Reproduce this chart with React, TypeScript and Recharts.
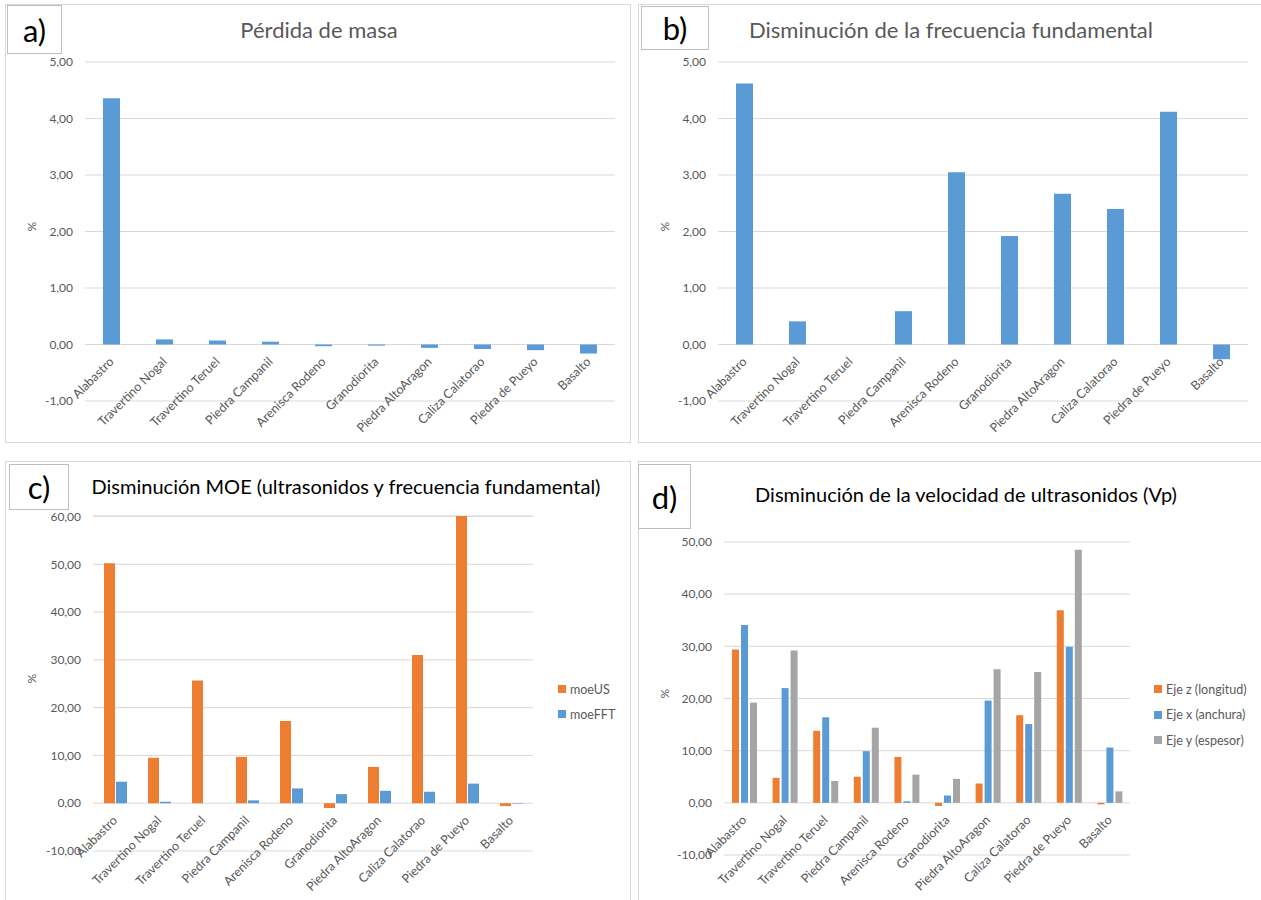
import React from "react";
import {
    BarChart,
    Bar,
    XAxis,
    YAxis,
    CartesianGrid
} from "recharts";

// stone types, same order in every panel
const stones = [
    "Alabastro",
    "Travertino Nogal",
    "Travertino Teruel",
    "Piedra Campanil",
    "Arenisca Rodeno",
    "Granodiorita",
    "Piedra AltoAragon",
    "Caliza Calatorao",
    "Piedra de Pueyo",
    "Basalto"
];

// a) mass loss, %
const massLoss = [4.36, 0.09, 0.07, 0.05, -0.03, -0.02, -0.06, -0.08, -0.1, -0.16];

// b) fundamental frequency drop, %
const freqDrop = [4.62, 0.41, 0, 0.59, 3.05, 1.92, 2.67, 2.4, 4.12, -0.26];

// c) MOE drop, %
const moeUS = [50.2, 9.5, 25.7, 9.7, 17.2, -1.0, 7.6, 31.0, 60.1, -0.6];
const moeFFT = [4.5, 0.3, 0, 0.6, 3.1, 1.9, 2.6, 2.4, 4.1, -0.1];

// d) ultrasonic velocity drop per axis, %
const ejeZ = [29.4, 4.8, 13.8, 5.0, 8.8, -0.6, 3.7, 16.8, 36.9, -0.3];
const ejeX = [34.1, 22.0, 16.4, 9.9, 0.3, 1.4, 19.6, 15.1, 29.9, 10.6];
const ejeY = [19.2, 29.2, 4.2, 14.4, 5.4, 4.6, 25.6, 25.1, 48.5, 2.2];

const ticksAB = [-1, 0, 1, 2, 3, 4, 5];
const ticksC = [-10, 0, 10, 20, 30, 40, 50, 60];
const ticksD = [-10, 0, 10, 20, 30, 40, 50];

const BLUE = "#5B9BD5";
const ORANGE = "#ED7D31";
const GRAY = "#A5A5A5";
const TEXT = "#595959";
const FONT = "Lato, 'Liberation Sans', sans-serif";

const fmt = (v: number) => v.toFixed(2).replace(".", ",");

type Series = { key: string; name: string; color: string; values: number[] };

type PanelProps = {
    left: number;
    top: number;
    width: number;
    height: number;
    letter: string;
    letterBox: { x: number; y: number; w: number; h: number };
    title: string;
    titleX: number;
    titleY: number;
    titleColor: string;
    titleSize: number;
    margin: { top: number; right: number; bottom: number; left: number };
    ticks: number[];
    series: Series[];
    barSize: number;
    barGap?: number;
    legend?: { x: number; y: number; step: number };
};

const AXIS_H = 4;

function Panel(p: PanelProps) {
    const data = stones.map((name, i) => {
        const row: any = { name };
        p.series.forEach(s => (row[s.key] = s.values[i]));
        return row;
    });
    const lo = p.ticks[0];
    const hi = p.ticks[p.ticks.length - 1];
    const plotH = p.height - p.margin.top - p.margin.bottom;
    // category labels hang from the zero line, not from the bottom of the plot
    const zeroY = p.margin.top + (plotH * hi) / (hi - lo);

    const renderTick = (props: any) => {
        const { x, payload } = props;
        return (
            <g transform={`translate(${x + 3},${zeroY + 18})`}>
                <text
                    transform="rotate(-45)"
                    textAnchor="end"
                    fill={TEXT}
                    fontSize={12.5}
                    fontFamily={FONT}
                >
                    {payload.value}
                </text>
            </g>
        );
    };

    return (
        <div
            style={{
                position: "absolute",
                left: p.left,
                top: p.top,
                width: p.width,
                height: p.height,
                border: "1px solid #d9d9d9",
                boxSizing: "border-box",
                background: "#fff",
                fontFamily: FONT
            }}
        >
            <div
                style={{
                    position: "absolute",
                    left: p.letterBox.x,
                    top: p.letterBox.y,
                    width: p.letterBox.w,
                    height: p.letterBox.h,
                    border: "1px solid #bfbfbf",
                    boxSizing: "border-box",
                    display: "flex",
                    alignItems: "center",
                    justifyContent: "center",
                    fontSize: 31,
                    color: "#000",
                    zIndex: 2,
                    background: "#fff"
                }}
            >
                {p.letter}
            </div>
            <div
                style={{
                    position: "absolute",
                    left: p.titleX,
                    top: p.titleY,
                    transform: "translate(-50%, -50%)",
                    whiteSpace: "nowrap",
                    fontSize: p.titleSize,
                    color: p.titleColor,
                    zIndex: 2
                }}
            >
                {p.title}
            </div>
            <div style={{ position: "absolute", left: -1, top: -1 }}>
                <BarChart
                    width={p.width}
                    height={p.height}
                    data={data}
                    margin={{ top: p.margin.top, right: p.margin.right, bottom: p.margin.bottom - AXIS_H, left: 0 }}
                    barGap={p.barGap ?? 0}
                >
                    <CartesianGrid vertical={false} stroke="#d9d9d9" />
                    <XAxis
                        dataKey="name"
                        height={AXIS_H}
                        axisLine={false}
                        tickLine={false}
                        interval={0}
                        tick={renderTick}
                    />
                    <YAxis
                        width={p.margin.left}
                        domain={[lo, hi]}
                        ticks={p.ticks}
                        interval={0}
                        axisLine={false}
                        tickLine={false}
                        tickMargin={6}
                        tickFormatter={fmt}
                        tick={{ fill: TEXT, fontSize: 12, fontFamily: FONT }}
                        label={{
                            value: "%",
                            angle: -90,
                            position: "insideLeft",
                            offset: 27,
                            fill: TEXT,
                            fontSize: 12,
                            fontFamily: FONT
                        }}
                    />
                    {p.series.map(s => (
                        <Bar
                            key={s.key}
                            dataKey={s.key}
                            name={s.name}
                            fill={s.color}
                            barSize={p.barSize}
                            isAnimationActive={false}
                        />
                    ))}
                </BarChart>
            </div>
            {p.legend &&
                p.series.map((s, i) => (
                    <div
                        key={s.key}
                        style={{
                            position: "absolute",
                            left: p.legend!.x,
                            top: p.legend!.y + i * p.legend!.step - 8,
                            height: 16,
                            display: "flex",
                            alignItems: "center",
                            fontSize: 12.5,
                            color: TEXT,
                            whiteSpace: "nowrap"
                        }}
                    >
                        <span
                            style={{
                                display: "inline-block",
                                width: 8,
                                height: 8,
                                background: s.color,
                                marginRight: 4
                            }}
                        />
                        {s.name}
                    </div>
                ))}
        </div>
    );
}

export default function App() {
    return (
        <div
            style={{
                position: "absolute",
                left: 0,
                top: 0,
                width: 1261,
                height: 900,
                overflow: "hidden",
                background: "#fff"
            }}
        >
            <Panel
                left={5}
                top={4}
                width={626}
                height={439}
                letter="a)"
                letterBox={{ x: 1, y: 0, w: 55, h: 49 }}
                title="Pérdida de masa"
                titleX={313}
                titleY={24}
                titleColor={TEXT}
                titleSize={22}
                margin={{ top: 58, right: 16, bottom: 42, left: 80 }}
                ticks={ticksAB}
                series={[{ key: "m", name: "Pérdida de masa", color: BLUE, values: massLoss }]}
                barSize={17}
            />
            <Panel
                left={638}
                top={4}
                width={624}
                height={439}
                letter="b)"
                letterBox={{ x: 2, y: 1, w: 68, h: 44 }}
                title="Disminución de la frecuencia  fundamental"
                titleX={312}
                titleY={24}
                titleColor={TEXT}
                titleSize={22}
                margin={{ top: 58, right: 14, bottom: 42, left: 80 }}
                ticks={ticksAB}
                series={[{ key: "f", name: "Frecuencia", color: BLUE, values: freqDrop }]}
                barSize={17}
            />
            <Panel
                left={5}
                top={461}
                width={626}
                height={441}
                letter="c)"
                letterBox={{ x: 3, y: 2, w: 60, h: 46 }}
                title="Disminución MOE (ultrasonidos y frecuencia fundamental)"
                titleX={340}
                titleY={24}
                titleColor="#000"
                titleSize={20}
                margin={{ top: 55, right: 98, bottom: 51, left: 88 }}
                ticks={ticksC}
                series={[
                    { key: "us", name: "moeUS", color: ORANGE, values: moeUS },
                    { key: "fft", name: "moeFFT", color: BLUE, values: moeFFT }
                ]}
                barSize={11}
                barGap={1}
                legend={{ x: 552, y: 227, step: 25 }}
            />
            <Panel
                left={638}
                top={461}
                width={624}
                height={441}
                letter="d)"
                letterBox={{ x: -1, y: 2, w: 53, h: 65 }}
                title="Disminución de la velocidad de ultrasonidos (Vp)"
                titleX={327}
                titleY={32}
                titleColor="#000"
                titleSize={20}
                margin={{ top: 81, right: 132, bottom: 47, left: 86 }}
                ticks={ticksD}
                series={[
                    { key: "z", name: "Eje z (longitud)", color: ORANGE, values: ejeZ },
                    { key: "x", name: "Eje x (anchura)", color: BLUE, values: ejeX },
                    { key: "y", name: "Eje y (espesor)", color: GRAY, values: ejeY }
                ]}
                barSize={7}
                barGap={2}
                legend={{ x: 515, y: 227, step: 25.5 }}
            />
        </div>
    );
}
